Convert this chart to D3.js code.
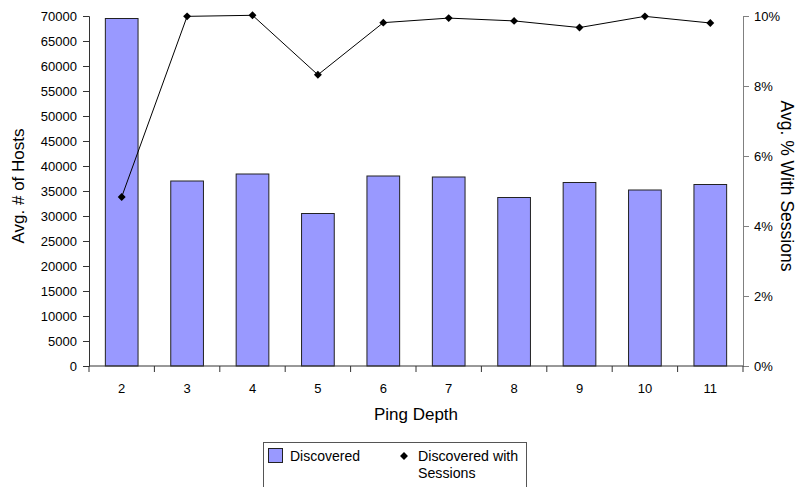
<!DOCTYPE html>
<html><head><meta charset="utf-8">
<script src="https://cdn.jsdelivr.net/npm/d3@7"></script>
<style>body{margin:0;background:#fff}svg{display:block;font-family:"Liberation Sans",Arial,sans-serif}</style>
</head><body><svg id="c" width="799" height="487"></svg>
<script>
const categories = ["2","3","4","5","6","7","8","9","10","11"];
const discovered = [69500,37000,38400,30500,38000,37800,33700,36700,35200,36300];
const withSessions = [4.83,9.99,10.02,8.32,9.81,9.94,9.86,9.67,9.99,9.80];
const leftTicks = d3.range(0,70001,5000);
const rightTicks = [0,2,4,6,8,10];

const svg = d3.select("#c");
const L=89,R=743,T=16,B=366;
const x = d3.scaleBand().domain(categories).range([L,R]).paddingInner(0.5).paddingOuter(0.25);
const y = d3.scaleLinear().domain([0,70000]).range([B,T]);
const y2 = d3.scaleLinear().domain([0,10]).range([B,T]);

// bars
svg.append("g").selectAll("rect").data(discovered).join("rect")
  .attr("x",(d,i)=>x(categories[i])).attr("y",d=>y(d))
  .attr("width",x.bandwidth()).attr("height",d=>B-y(d))
  .attr("fill","#9999ff").attr("stroke","#222").attr("stroke-width",1);

// left axis
const ga = svg.append("g").attr("transform",`translate(${L},0)`)
  .call(d3.axisLeft(y).tickValues(leftTicks).tickSize(6).tickPadding(6).tickFormat(d3.format("d")));
ga.select(".domain").attr("stroke","#333");
ga.selectAll("line").attr("stroke","#333");
ga.selectAll("text").attr("font-size",13).attr("fill","#000").attr("font-family","Liberation Sans, Arial, sans-serif");

// right axis
const gr = svg.append("g").attr("transform",`translate(${R},0)`)
  .call(d3.axisRight(y2).tickValues(rightTicks).tickSize(6).tickPadding(5).tickFormat(d=>d+"%"));
gr.select(".domain").attr("stroke","#808080");
gr.selectAll("line").attr("stroke","#808080");
gr.selectAll("text").attr("font-size",13).attr("fill","#000").attr("font-family","Liberation Sans, Arial, sans-serif");

// bottom axis: ticks at band boundaries
const gb = svg.append("g").attr("transform",`translate(0,${B})`);
gb.append("line").attr("x1",L).attr("x2",R).attr("y1",0).attr("y2",0).attr("stroke","#333");
const step = x.step();
const bounds = d3.range(categories.length+1).map(i=>L+i*step);
gb.selectAll("line.t").data(bounds).join("line").attr("class","t")
  .attr("x1",d=>d).attr("x2",d=>d).attr("y1",0).attr("y2",6).attr("stroke","#333");
gb.selectAll("text").data(categories).join("text")
  .attr("x",d=>x(d)+x.bandwidth()/2).attr("y",27).attr("text-anchor","middle")
  .attr("font-size",13).text(d=>d);

// line series
const line = d3.line().x((d,i)=>x(categories[i])+x.bandwidth()/2).y(d=>y2(d));
svg.append("path").datum(withSessions).attr("d",line).attr("fill","none").attr("stroke","#000").attr("stroke-width",1);
svg.append("g").selectAll("path").data(withSessions).join("path")
  .attr("d",d3.symbol(d3.symbolDiamond2,40))
  .attr("transform",(d,i)=>`translate(${x(categories[i])+x.bandwidth()/2},${y2(d)})`)
  .attr("fill","#000");

// titles
svg.append("text").attr("x",(L+R)/2).attr("y",420).attr("text-anchor","middle").attr("font-size",17).text("Ping Depth");
svg.append("text").attr("transform","translate(24,186) rotate(-90)").attr("text-anchor","middle").attr("font-size",17).text("Avg. # of Hosts");
svg.append("text").attr("transform","translate(781,186) rotate(90)").attr("text-anchor","middle").attr("font-size",17.5).text("Avg. % With Sessions");

// legend
const lg = svg.append("g");
lg.append("rect").attr("x",263.5).attr("y",442.5).attr("width",263).attr("height",60).attr("fill","#fff").attr("stroke","#555");
lg.append("rect").attr("x",268.5).attr("y",448.5).attr("width",14).attr("height",14).attr("fill","#9999ff").attr("stroke","#222");
lg.append("text").attr("x",290).attr("y",461).attr("font-size",14).text("Discovered");
lg.append("path").attr("d",d3.symbol(d3.symbolDiamond2,40)).attr("transform","translate(404,456)").attr("fill","#000");
lg.append("text").attr("x",418).attr("y",461).attr("font-size",14.2).text("Discovered with");
lg.append("text").attr("x",418).attr("y",478).attr("font-size",14.2).text("Sessions");
</script></body></html>
